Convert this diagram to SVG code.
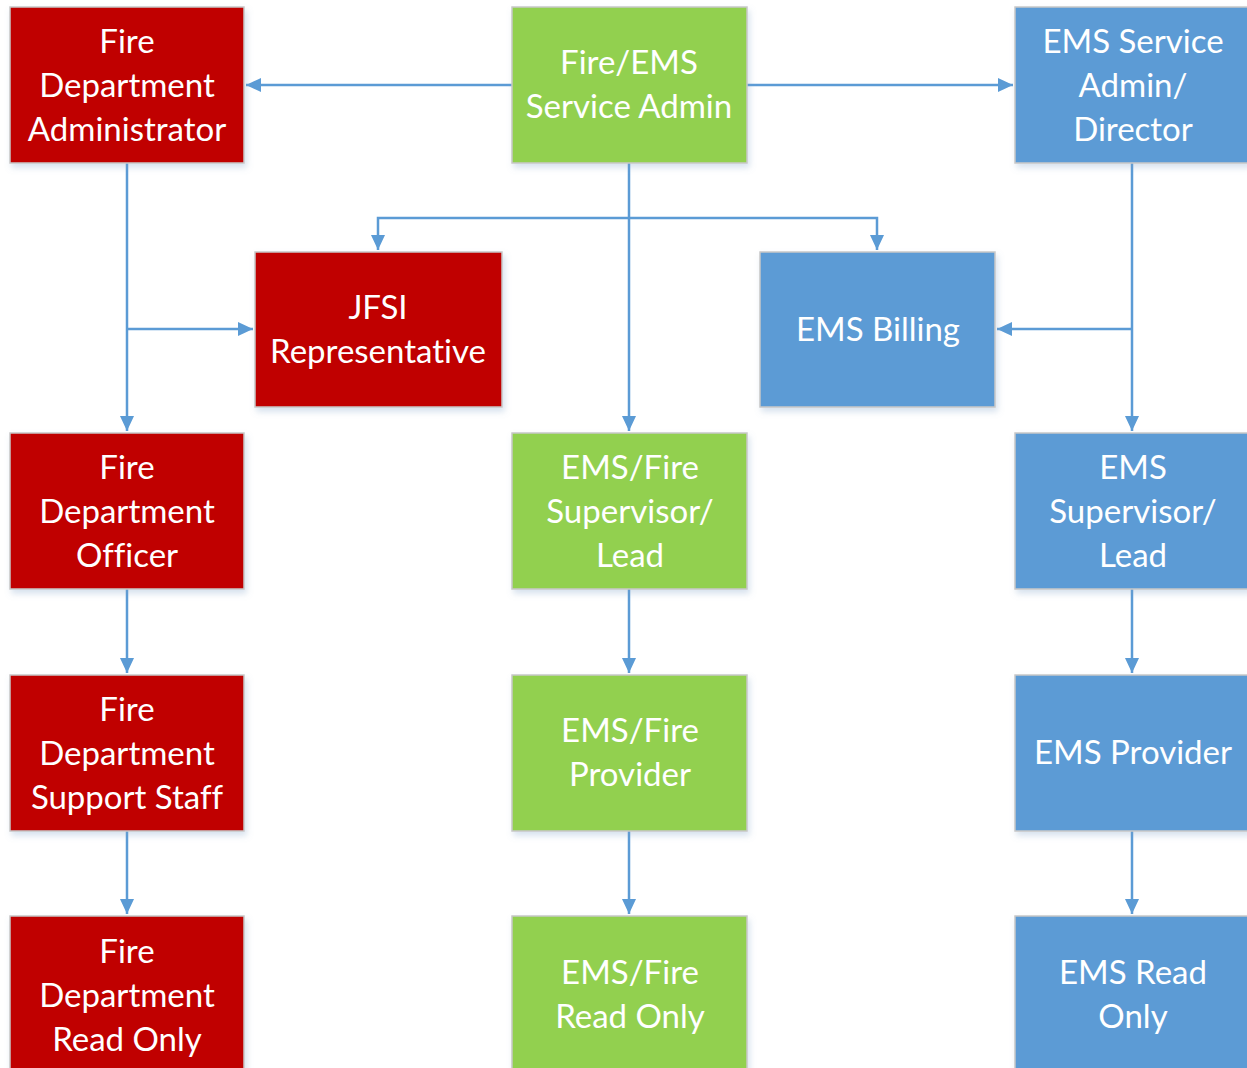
<svg xmlns="http://www.w3.org/2000/svg" width="1247" height="1068" viewBox="0 0 1247 1068">
<defs>
<filter id="sh" x="-10%" y="-10%" width="130%" height="130%">
<feDropShadow dx="2" dy="4" stdDeviation="3" flood-color="#7a9cc6" flood-opacity="0.3"/>
</filter>
<marker id="ah" markerUnits="userSpaceOnUse" markerWidth="16" markerHeight="16" refX="15" refY="8" orient="auto">
<path d="M0,1 L15,8 L0,15 Z" fill="#5b9bd5"/>
</marker>
<style>
.box{stroke:#c8c8c8;stroke-width:1.5;filter:url(#sh)}
.red{fill:#c00000}
.green{fill:#92d050}
.blue{fill:#5b9bd5}
text{font-family:Lato,"Open Sans","Liberation Sans",sans-serif;font-size:33px;fill:#ffffff;text-anchor:middle;font-variant-ligatures:none}
.c{fill:none;stroke:#5b9bd5;stroke-width:2.5}
</style>
</defs>
<rect width="1247" height="1068" fill="#ffffff"/>
<g id="connectors">
<path class="c" d="M512,85 L246,85" marker-end="url(#ah)"/>
<path class="c" d="M747,85 L1013,85" marker-end="url(#ah)"/>
<path class="c" d="M629,163 L629,431" marker-end="url(#ah)"/>
<path class="c" d="M629,218 L378,218 L378,250" marker-end="url(#ah)"/>
<path class="c" d="M629,218 L877,218 L877,250" marker-end="url(#ah)"/>
<path class="c" d="M127,163 L127,431" marker-end="url(#ah)"/>
<path class="c" d="M127,329 L253,329" marker-end="url(#ah)"/>
<path class="c" d="M1132,163 L1132,431" marker-end="url(#ah)"/>
<path class="c" d="M1132,329 L997,329" marker-end="url(#ah)"/>
<path class="c" d="M127,589 L127,673" marker-end="url(#ah)"/>
<path class="c" d="M127,831 L127,914" marker-end="url(#ah)"/>
<path class="c" d="M629,589 L629,673" marker-end="url(#ah)"/>
<path class="c" d="M629,831 L629,914" marker-end="url(#ah)"/>
<path class="c" d="M1132,589 L1132,673" marker-end="url(#ah)"/>
<path class="c" d="M1132,831 L1132,914" marker-end="url(#ah)"/>
</g>
<g id="fire-admin"><rect class="box red" x="10" y="7" width="234" height="156"/><text x="127" y="53">Fire</text><text x="127" y="97">Department</text><text x="127" y="141">Administrator</text></g>
<g id="fire-ems-admin"><rect class="box green" x="512" y="7" width="235" height="156"/><text x="629" y="74">Fire/EMS</text><text x="629" y="118">Service Admin</text></g>
<g id="ems-admin"><rect class="box blue" x="1015" y="7" width="235" height="156"/><text x="1133" y="53">EMS Service</text><text x="1133" y="97">Admin/</text><text x="1133" y="141">Director</text></g>
<g id="jfsi"><rect class="box red" x="255" y="252" width="247" height="155"/><text x="378" y="319">JFSI</text><text x="378" y="363">Representative</text></g>
<g id="ems-billing"><rect class="box blue" x="760" y="252" width="235" height="155"/><text x="878" y="341">EMS Billing</text></g>
<g id="fire-officer"><rect class="box red" x="10" y="433" width="234" height="156"/><text x="127" y="479">Fire</text><text x="127" y="523">Department</text><text x="127" y="567">Officer</text></g>
<g id="ems-fire-supervisor"><rect class="box green" x="512" y="433" width="235" height="156"/><text x="630" y="479">EMS/Fire</text><text x="630" y="523">Supervisor/</text><text x="630" y="567">Lead</text></g>
<g id="ems-supervisor"><rect class="box blue" x="1015" y="433" width="235" height="156"/><text x="1133" y="479">EMS</text><text x="1133" y="523">Supervisor/</text><text x="1133" y="567">Lead</text></g>
<g id="fire-support"><rect class="box red" x="10" y="675" width="234" height="156"/><text x="127" y="721">Fire</text><text x="127" y="765">Department</text><text x="127" y="809">Support Staff</text></g>
<g id="ems-fire-provider"><rect class="box green" x="512" y="675" width="235" height="156"/><text x="630" y="742">EMS/Fire</text><text x="630" y="786">Provider</text></g>
<g id="ems-provider"><rect class="box blue" x="1015" y="675" width="235" height="156"/><text x="1133" y="764">EMS Provider</text></g>
<g id="fire-readonly"><rect class="box red" x="10" y="916" width="234" height="156"/><text x="127" y="963">Fire</text><text x="127" y="1007">Department</text><text x="127" y="1051">Read Only</text></g>
<g id="ems-fire-readonly"><rect class="box green" x="512" y="916" width="235" height="156"/><text x="630" y="984">EMS/Fire</text><text x="630" y="1028">Read Only</text></g>
<g id="ems-readonly"><rect class="box blue" x="1015" y="916" width="235" height="156"/><text x="1133" y="984">EMS Read</text><text x="1133" y="1028">Only</text></g>
</svg>
